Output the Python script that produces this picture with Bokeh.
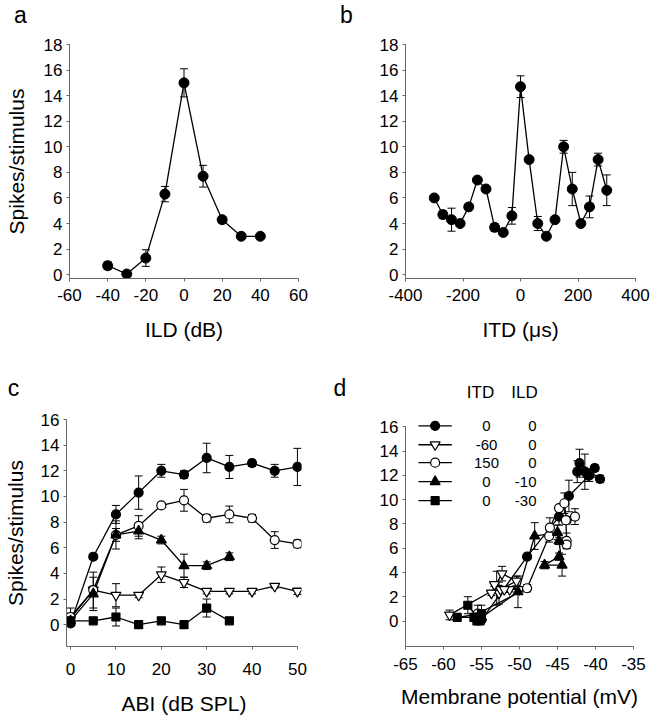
from bokeh.plotting import figure
from bokeh.layouts import row, column
from bokeh.models import ColumnDataSource, Whisker, TeeHead, Range1d
from bokeh.core.properties import value
from bokeh.embed import file_html
from bokeh.resources import INLINE

FONT = "Liberation Sans"

# ---------------- data ----------------
# panel a: ILD tuning
ild = [-40, -30, -20, -10, 0, 10, 20, 30, 40]
ild_spikes = [0.7, 0.05, 1.3, 6.3, 15.0, 7.7, 4.3, 3.0, 3.0]
ild_err = [0.3, 0, 0.65, 0.6, 1.1, 0.85, 0.25, 0, 0]

# panel b: ITD tuning
itd = [-300, -270, -240, -210, -180, -150, -120, -90, -60, -30, 0,
       30, 60, 90, 120, 150, 180, 210, 240, 270, 300]
itd_spikes = [6.0, 4.7, 4.3, 4.0, 5.3, 7.4, 6.7, 3.7, 3.3, 4.6, 14.7,
              9.0, 4.0, 3.0, 4.3, 10.0, 6.7, 4.0, 5.3, 9.0, 6.6]
itd_err = [0, 0.3, 0.9, 0, 0, 0, 0, 0.3, 0, 0.65, 0.85,
           0, 0.55, 0, 0, 0.5, 1.3, 0, 0.85, 0.5, 1.2]

# panel c: ABI functions
abi = [0, 5, 10, 15, 20, 25, 30, 35, 40, 45, 50]
abi_short = [0, 5, 10, 15, 20, 25, 30, 35]
c_itd0_ild0 = [0.1, 5.3, 8.6, 10.3, 12.0, 11.7, 13.0, 12.3, 12.6, 12.0, 12.3]
c_itd0_ild0_err = [0.2, 0.2, 0.7, 1.3, 0.5, 0.3, 1.15, 0.9, 0.25, 0.5, 1.45]
c_itdm60 = [0.5, 2.7, 2.3, 2.3, 3.9, 3.3, 2.6, 2.6, 2.6, 3.0, 2.6]
c_itdm60_err = [0.4, 1.4, 0.9, 0.2, 0.6, 0.4, 0.2, 0.2, 0.2, 0.15, 0.25]
c_itd150 = [0.6, 2.7, 7.0, 7.7, 9.3, 9.7, 8.3, 8.6, 8.3, 6.6, 6.3]
c_itd150_err = [0.7, 0.3, 0.5, 0.8, 0.2, 0.85, 0.3, 0.65, 0.3, 0.65, 0.3]
c_ildm10 = [0.3, 2.4, 7.0, 7.3, 6.6, 4.6, 4.6, 5.3]
c_ildm10_err = [0.3, 1.3, 1.1, 0.6, 0.3, 0.9, 0.3, 0.3]
c_ildm30 = [0.3, 0.3, 0.6, 0.0, 0.3, 0.0, 1.3, 0.3]
c_ildm30_err = [0.3, 0.1, 0.7, 0.1, 0.1, 0.1, 0.7, 0.15]

# panel d: membrane potential at each ABI (same spike values as c)
d_itd0_ild0 = [-55.0, -49.0, -44.8, -43.5, -40.8, -39.4, -42.1, -42.4, -40.1, -41.0, -41.4]
d_itdm60 = [-59.2, -53.0, -52.7, -53.7, -52.3, -50.4, -52.5, -51.3, -50.0, -53.3, -52.0]
d_itd150 = [-55.5, -49.0, -46.1, -46.0, -44.8, -44.1, -43.8, -42.7, -43.9, -43.8, -43.8]
d_ildm10 = [-55.0, -50.2, -48.0, -45.0, -44.8, -44.4, -46.7, -44.8]
d_ildm30 = [-55.8, -58.2, -55.0, -55.6, -56.0, -55.2, -56.8, -55.5]

legend_itd = ["0", "-60", "150", "0", "0"]
legend_ild = ["0", "0", "0", "-10", "-30"]
legend_rows = [16.08, 14.52, 13.04, 11.48, 9.91]

panel_letters = ["a", "b", "c", "d"]

ticks_a_x = [-60, -40, -20, 0, 20, 40, 60]
ticks_b_x = [-400, -200, 0, 200, 400]
ticks_c_x = [0, 10, 20, 30, 40, 50]
ticks_d_x = [-65, -60, -55, -50, -45, -40, -35]
ticks_y18 = [0, 2, 4, 6, 8, 10, 12, 14, 16, 18]
ticks_y16 = [0, 2, 4, 6, 8, 10, 12, 14, 16]


# ---------------- helpers ----------------
def make_fig(width, height, xr, yr, bl, br, bt, bb, xticks, yticks):
    p = figure(width=width, height=height, x_range=xr, y_range=yr,
               output_backend="svg", toolbar_location=None,
               min_border_left=bl, min_border_right=br,
               min_border_top=bt, min_border_bottom=bb)
    p.xgrid.visible = False
    p.ygrid.visible = False
    p.outline_line_color = None
    p.background_fill_color = "white"
    p.border_fill_color = "white"
    p.xaxis.ticker = xticks
    p.yaxis.ticker = yticks
    p.xaxis.major_label_overrides = {t: str(t) for t in xticks}
    p.yaxis.major_label_overrides = {t: str(t) for t in yticks}
    for ax in (p.xaxis[0], p.yaxis[0]):
        ax.axis_line_color = "#666666"
        ax.axis_line_width = 1
        ax.major_tick_line_color = "#666666"
        ax.minor_tick_line_color = None
        ax.major_tick_in = 0
        ax.major_tick_out = 3
        ax.major_label_text_font = FONT
        ax.major_label_text_font_size = "17px"
        ax.major_label_text_color = "black"
        ax.axis_label_text_font = FONT
        ax.axis_label_text_font_size = "21px"
        ax.axis_label_text_font_style = "normal"
        ax.axis_label_text_color = "black"
    return p


def make_strip(width, height):
    s = figure(width=width, height=height, x_range=Range1d(0, width),
               y_range=Range1d(height, 0), output_backend="svg",
               toolbar_location=None, x_axis_type=None, y_axis_type=None,
               min_border=0)
    s.xgrid.visible = False
    s.ygrid.visible = False
    s.outline_line_color = None
    s.background_fill_color = "white"
    s.border_fill_color = "white"
    return s


def add_err(p, xs, ys, es):
    xx = [x for x, e in zip(xs, es) if e > 0]
    lo = [y - e for y, e in zip(ys, es) if e > 0]
    hi = [y + e for y, e in zip(ys, es) if e > 0]
    src = ColumnDataSource(dict(x=xx, lo=lo, hi=hi))
    w = Whisker(base="x", lower="lo", upper="hi", source=src,
                line_color="black", line_width=1,
                upper_head=TeeHead(size=8, line_color="black", line_width=1),
                lower_head=TeeHead(size=8, line_color="black", line_width=1))
    p.add_layout(w)


STYLES = [
    ("circle", 9, "black"),
    ("inverted_triangle", 10, "white"),
    ("circle", 9, "white"),
    ("triangle", 10, "black"),
    ("square", 8, "black"),
]

# ---------------- strip with letters a, b ----------------
s1 = make_strip(652, 30)
s1.text([20, 346], [14, 14], text=panel_letters[:2], text_font=value(FONT),
        text_font_size=value("23px"), text_align="center",
        text_baseline="middle", text_color="black")

# ---------------- panel a ----------------
pa = make_fig(326, 320, (-60, 60), (-0.3, 18), 69, 28, 14, 72, ticks_a_x, ticks_y18)
pa.xaxis.axis_label = "ILD (dB)"
pa.yaxis.axis_label = "Spikes/stimulus"
pa.xaxis.major_label_standoff = 7
pa.xaxis.axis_label_standoff = 14
pa.yaxis.major_label_standoff = 4
pa.yaxis.axis_label_standoff = 13
add_err(pa, ild, ild_spikes, ild_err)
pa.line(ild, ild_spikes, line_color="black", line_width=1.3)
pa.scatter(ild, ild_spikes, marker="circle", size=10, fill_color="black", line_color="black")

# ---------------- panel b ----------------
pb = make_fig(326, 320, (-400, 400), (-0.3, 18), 79, 17, 14, 72, ticks_b_x, ticks_y18)
pb.xaxis.axis_label = "ITD (\u03bcs)"
pb.xaxis.major_label_standoff = 7
pb.xaxis.axis_label_standoff = 14
pb.yaxis.major_label_standoff = 4
add_err(pb, itd, itd_spikes, itd_err)
pb.line(itd, itd_spikes, line_color="black", line_width=1.3)
pb.scatter(itd, itd_spikes, marker="circle", size=10, fill_color="black", line_color="black")

# ---------------- strip with letters c, d and legend header ----------------
s2 = make_strip(652, 52)
s2.text([13, 339.5], [37, 37], text=panel_letters[2:], text_font=value(FONT),
        text_font_size=value("23px"), text_align="center",
        text_baseline="middle", text_color="black")
s2.text([480, 524], [42, 42], text=["ITD", "ILD"], text_font=value(FONT),
        text_font_size=value("17px"), text_align="center",
        text_baseline="middle", text_color="black")

# ---------------- panel c ----------------
pc = make_fig(326, 317, (-0.9, 50.9), (-1.7, 16), 64, 25, 17, 73, ticks_c_x, ticks_y16)
pc.xaxis.bounds = (-0.9, 50)
pc.xaxis.axis_label = "ABI (dB SPL)"
pc.yaxis.axis_label = "Spikes/stimulus"
pc.xaxis.major_label_standoff = 13
pc.xaxis.axis_label_standoff = 14
pc.yaxis.major_label_standoff = 4
pc.yaxis.axis_label_standoff = 11
c_series = [
    (abi, c_itd0_ild0, c_itd0_ild0_err),
    (abi, c_itdm60, c_itdm60_err),
    (abi, c_itd150, c_itd150_err),
    (abi_short, c_ildm10, c_ildm10_err),
    (abi_short, c_ildm30, c_ildm30_err),
]
for xs, ys, es in c_series:
    add_err(pc, xs, ys, es)
for xs, ys, es in c_series:
    pc.line(xs, ys, line_color="black", line_width=1.3)
for (xs, ys, es), (mk, sz, fc) in zip(c_series, STYLES):
    pc.scatter(xs, ys, marker=mk, size=sz, fill_color=fc, line_color="black", line_width=1.2)

# ---------------- panel d ----------------
pd_ = make_fig(326, 317, (-65, -35), (-2.1, 16.6), 79, 19, 10, 67, ticks_d_x, ticks_y16)
pd_.yaxis.bounds = (-2.1, 16)
pd_.xaxis.axis_label = "Membrane potential (mV)"
pd_.xaxis.major_label_standoff = 8
pd_.xaxis.axis_label_standoff = 12
pd_.yaxis.major_label_standoff = 4
d_series = [
    (d_itd0_ild0, c_itd0_ild0, c_itd0_ild0_err),
    (d_itdm60, c_itdm60, c_itdm60_err),
    (d_itd150, c_itd150, c_itd150_err),
    (d_ildm10, c_ildm10, c_ildm10_err),
    (d_ildm30, c_ildm30, c_ildm30_err),
]
for xs, ys, es in d_series:
    add_err(pd_, xs, ys, es)
for xs, ys, es in d_series:
    pd_.line(xs, ys, line_color="black", line_width=1.3)
for (xs, ys, es), (mk, sz, fc) in zip(d_series, STYLES):
    pd_.scatter(xs, ys, marker=mk, size=sz, fill_color=fc, line_color="black", line_width=1.2)

# legend table inside panel d
for yrow, (mk, sz, fc) in zip(legend_rows, STYLES):
    pd_.line([-63.3, -58.9], [yrow, yrow], line_color="black", line_width=1.3)
    pd_.scatter([-61.1], [yrow], marker=mk, size=sz, fill_color=fc, line_color="black", line_width=1.2)
pd_.text([-54.34] * 5, legend_rows, text=legend_itd, text_font=value(FONT),
         text_font_size=value("15px"), text_align="center", text_baseline="middle",
         text_color="black")
pd_.text([-47.76] * 5, legend_rows, text=legend_ild, text_font=value(FONT),
         text_font_size=value("15px"), text_align="right", text_baseline="middle",
         text_color="black")

layout = column(s1, row(pa, pb), s2, row(pc, pd_))
open("out.html", "w").write(file_html(layout, INLINE))
